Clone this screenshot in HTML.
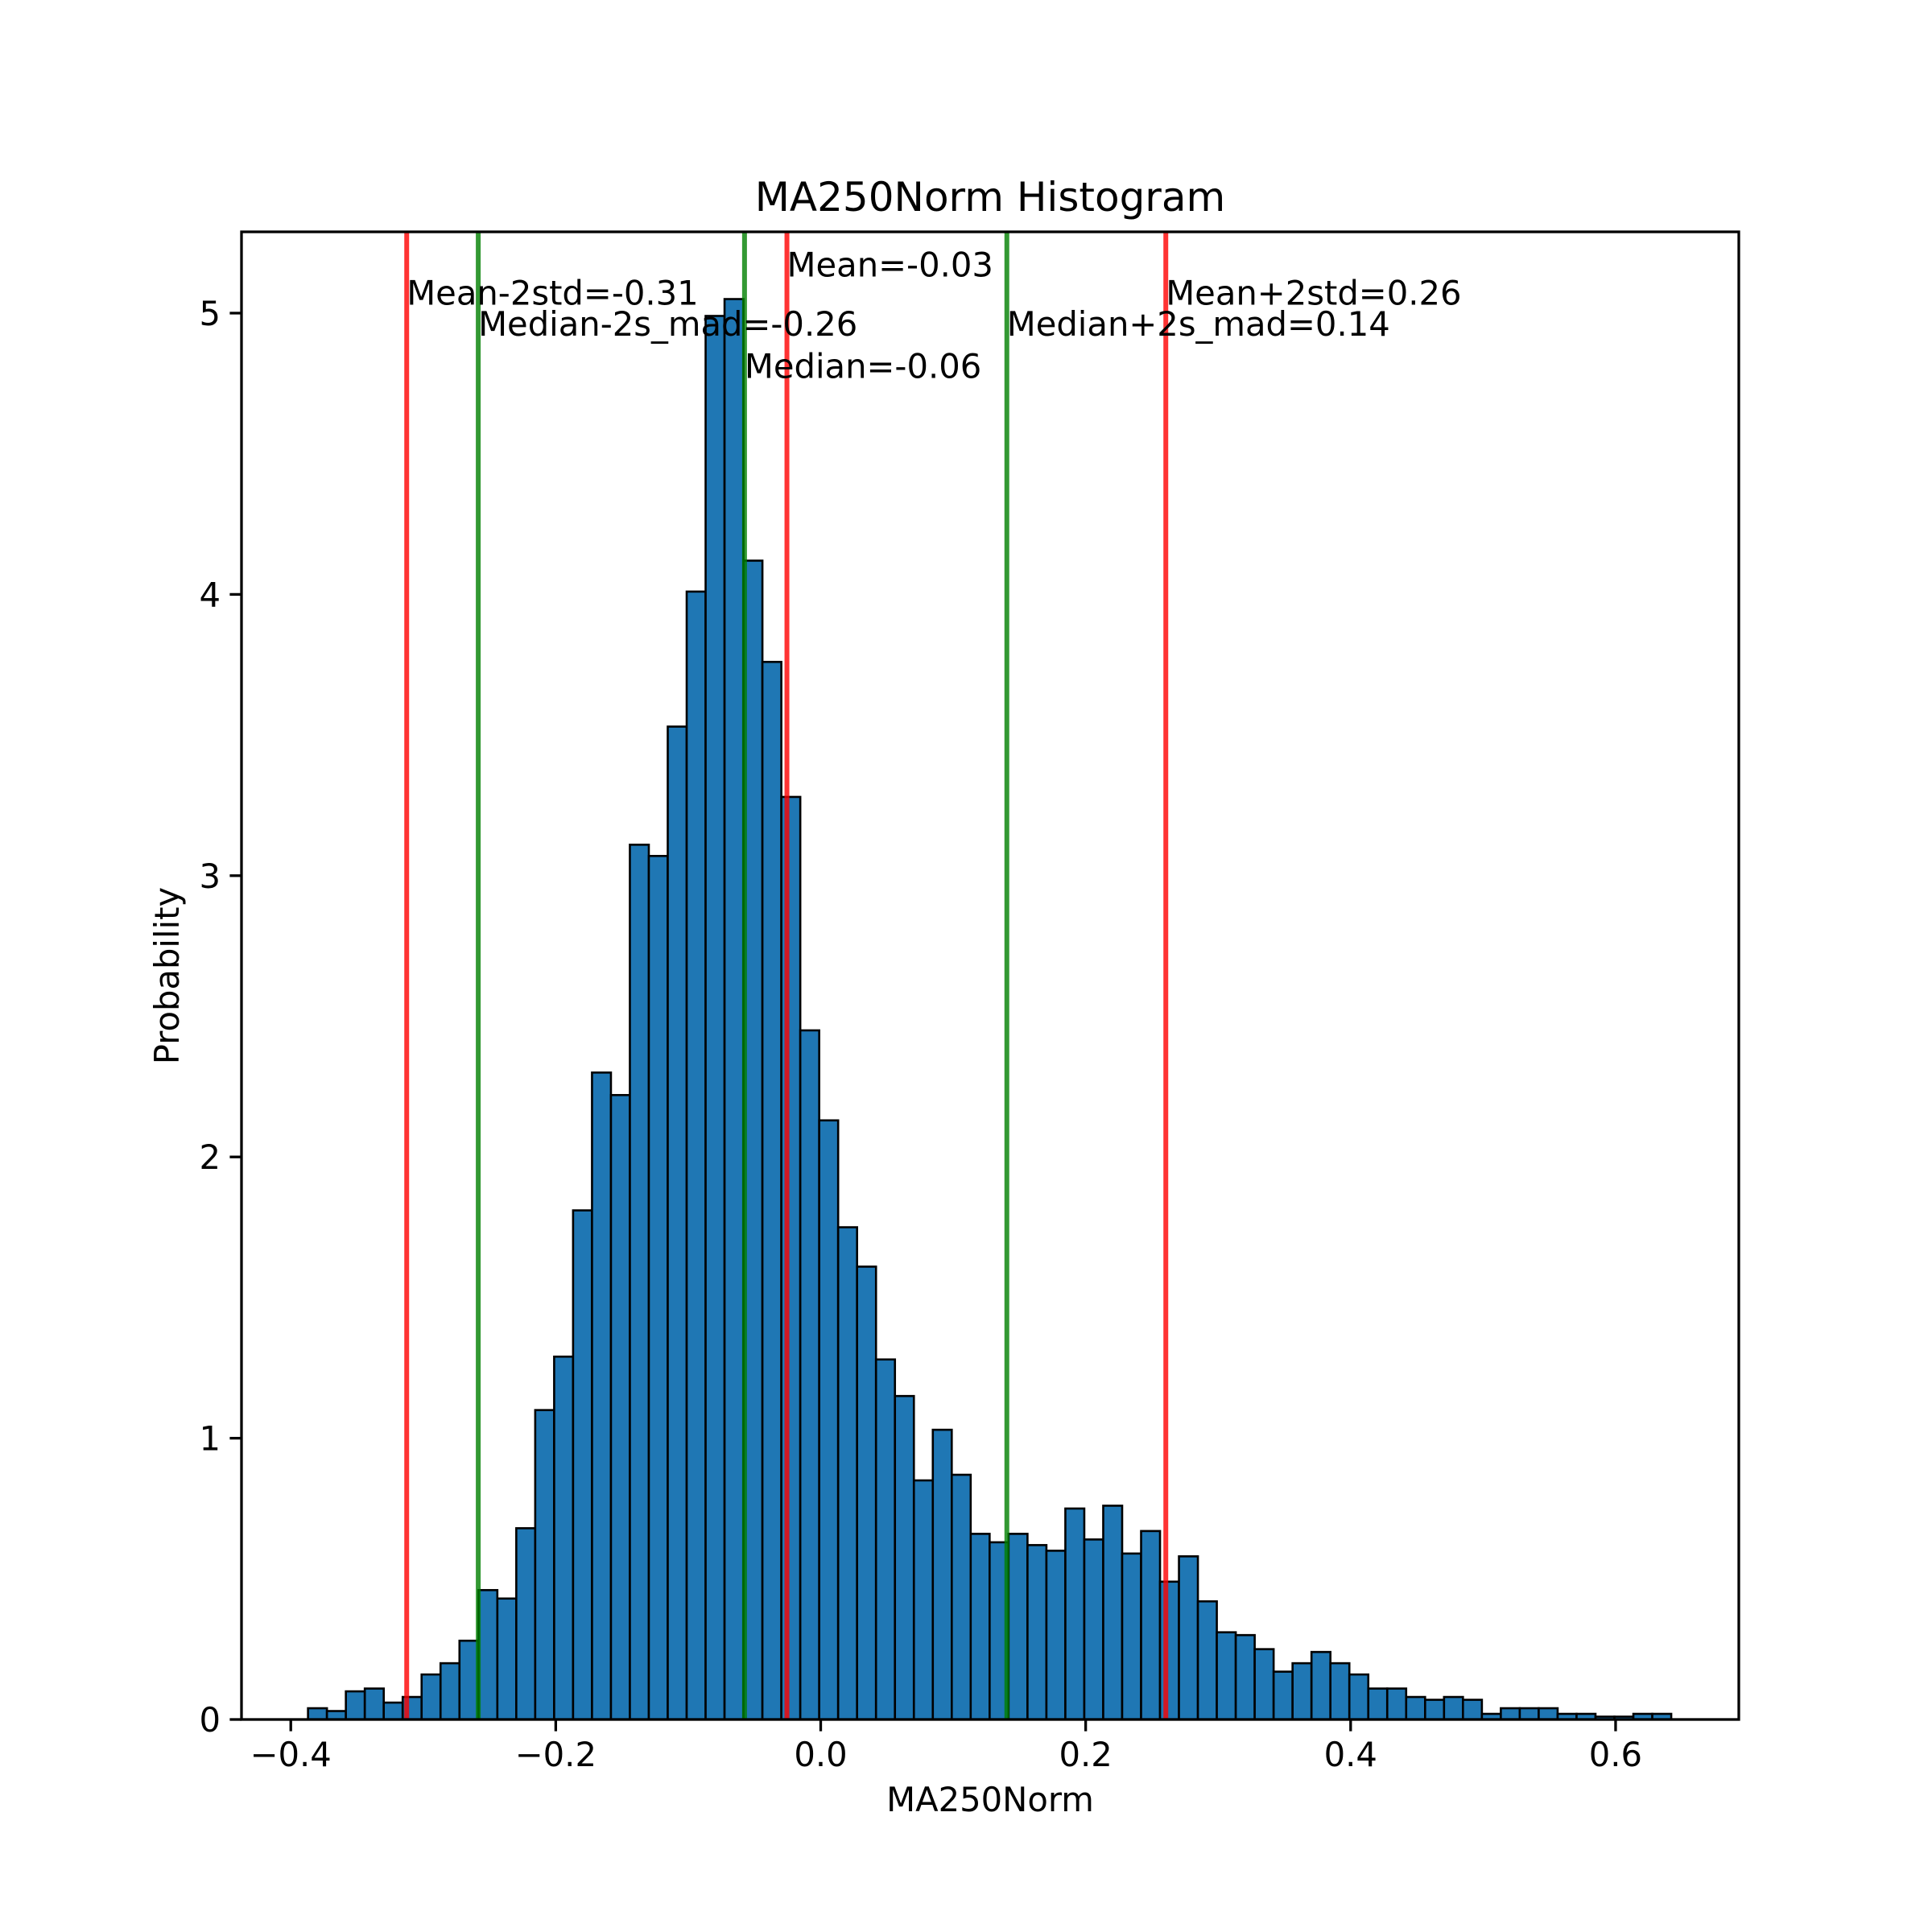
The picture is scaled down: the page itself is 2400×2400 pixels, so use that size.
<!DOCTYPE html>
<html><head><meta charset="utf-8"><style>
html,body{margin:0;padding:0;background:#fff;}
svg{display:block;font-family:"DejaVu Sans","Liberation Sans",sans-serif;}
</style></head><body>
<svg id="chart" width="2400" height="2400" viewBox="0 0 2400 2400" xmlns="http://www.w3.org/2000/svg">
<rect x="0" y="0" width="2400" height="2400" fill="#fff"/>
<text x="1230" y="262" font-size="50" text-anchor="middle">MA250Norm Histogram</text>
<g id="plot"></g>
<text x="1230" y="2250" font-size="41.7" text-anchor="middle">MA250Norm</text>
<text x="0" y="0" font-size="41.7" text-anchor="middle" transform="translate(222,1212) rotate(-90)">Probability</text>
</svg>
<script>
const binStart = -0.387;
const binEnd = 0.642;
const heights = [0.04,0.03,0.1,0.11,0.06,0.08,0.16,0.2,0.28,0.46,0.43,0.68,1.1,1.29,1.81,2.3,2.22,3.11,3.07,3.53,4.01,4.99,5.05,4.12,3.76,3.28,2.45,2.13,1.75,1.61,1.28,1.15,0.85,1.03,0.87,0.66,0.63,0.66,0.62,0.6,0.75,0.64,0.76,0.59,0.67,0.49,0.58,0.42,0.31,0.3,0.25,0.17,0.2,0.24,0.2,0.16,0.11,0.11,0.08,0.07,0.08,0.07,0.02,0.04,0.04,0.04,0.02,0.02,0.01,0.01,0.02,0.02];
const xTicks = [-0.4,-0.2,0.0,0.2,0.4,0.6];
const xTickLabels = ["\u22120.4","\u22120.2","0.0","0.2","0.4","0.6"];
const yTicks = [0,1,2,3,4,5];
const yTickLabels = ["0","1","2","3","4","5"];
const lineValues = [-0.3125,-0.2585,-0.0575,-0.0255,0.1405,0.2605];
const lineColors = ["red","green","green","red","green","red"];
const lineLabels = ["Mean-2std=-0.31","Median-2s_mad=-0.26","Median=-0.06","Mean=-0.03","Median+2s_mad=0.14","Mean+2std=0.26"];
const labelYs = [5.03,4.92,4.77,5.13,4.92,5.03];

const L=300,R=2160,T=288,B=2136;
const xMin=-0.4372,xMax=0.693,yMin=0,yMax=5.289;
const sx=v=>L+(v-xMin)/(xMax-xMin)*(R-L);
const sy=v=>B-(v-yMin)/(yMax-yMin)*(B-T);
const NS="http://www.w3.org/2000/svg";
const g=document.getElementById('plot');
function mk(tag,attrs){const e=document.createElementNS(NS,tag);for(const k in attrs)e.setAttribute(k,attrs[k]);g.appendChild(e);return e;}
const w=(binEnd-binStart)/heights.length;
heights.forEach((h,i)=>{
  const x0=sx(binStart+i*w),x1=sx(binStart+(i+1)*w);
  const r=mk('rect',{x:x0,y:sy(h),width:x1-x0,height:sy(0)-sy(h),fill:'#1f77b4',stroke:'#000','stroke-width':2.6});
  
  
});
lineValues.forEach((v,i)=>{
  const l=mk('line',{x1:sx(v),x2:sx(v),y1:T,y2:B,stroke:lineColors[i]==='red'?'#ff0000':'#008000','stroke-opacity':0.8,'stroke-width':6});
  
  
});
lineValues.forEach((v,i)=>{
  const t=mk('text',{x:sx(v),y:sy(labelYs[i]),'font-size':41.7});
  t.textContent=lineLabels[i];
  
  
});
const frame=mk('rect',{x:L,y:T,width:R-L,height:B-T,fill:'none',stroke:'#000','stroke-width':3.3});


xTicks.forEach((v,i)=>{
  const tk=mk('line',{x1:sx(v),x2:sx(v),y1:B,y2:B+14.6,stroke:'#000','stroke-width':3.3});
  
  
  const t=mk('text',{x:sx(v),y:B+58,'font-size':41.7,'text-anchor':'middle'});
  t.textContent=xTickLabels[i];
  
  
});
yTicks.forEach((v,i)=>{
  const tk=mk('line',{x1:L-14.6,x2:L,y1:sy(v),y2:sy(v),stroke:'#000','stroke-width':3.3});
  
  
  const t=mk('text',{x:L-26,y:sy(v)+15,'font-size':41.7,'text-anchor':'end'});
  t.textContent=yTickLabels[i];
  
  
});
</script>
</body></html>
